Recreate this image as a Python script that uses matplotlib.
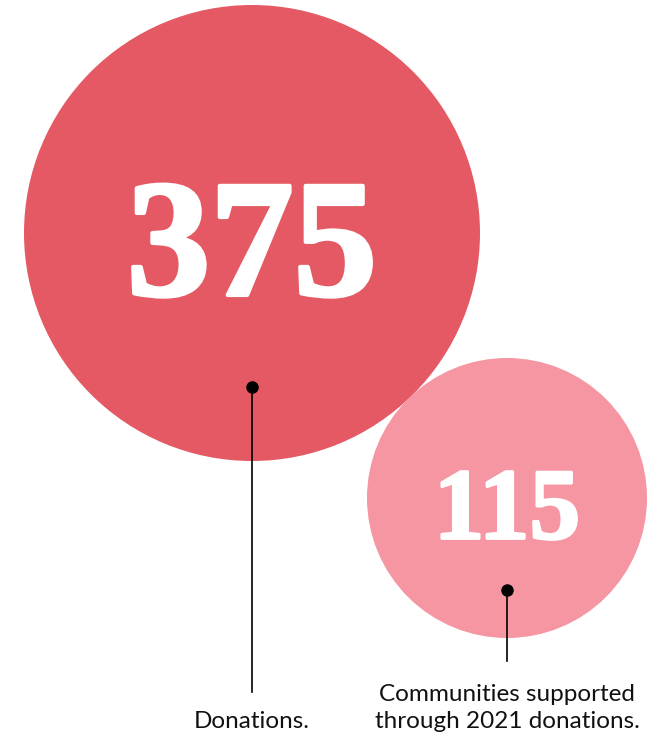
import matplotlib.pyplot as plt
import matplotlib.patheffects as pe
from matplotlib.patches import Circle

values = [375, 115]
labels = ["Donations.", "Communities supported\nthrough 2021 donations."]
colors = ["#E45963", "#F596A2"]

# layout in pixel units (figure is 660 x 740)
centers = [(252, 233), (507, 498)]
radii = [228, 140]
dots_y = [387, 590]
line_end = [692, 661]
label_y = [722, 708]
num_sizes = [120, 73]
num_shift = [22, 16]
num_stroke = [3, 2]

fig = plt.figure(figsize=(6.6, 7.4), dpi=100)
ax = fig.add_axes([0, 0, 1, 1])
ax.set_xlim(0, 660)
ax.set_ylim(740, 0)
ax.set_aspect('equal')
ax.axis('off')

for i in range(len(values)):
    cx, cy = centers[i]
    ax.add_patch(Circle((cx, cy), radii[i], color=colors[i], lw=0, zorder=1))
    t = ax.text(cx, cy + num_shift[i], str(values[i]), ha='center', va='center', color='white',
                fontsize=num_sizes[i], fontweight='bold', family='Liberation Serif', zorder=3)
    # thicken the digits a bit, the original face is chunkier
    t.set_path_effects([pe.withStroke(linewidth=num_stroke[i], foreground='white')])
    ax.plot([cx, cx], [dots_y[i], line_end[i]], color='black', lw=1.2, zorder=2)
    ax.plot(cx, dots_y[i], 'o', color='black', ms=8, zorder=3)
    ax.text(cx, label_y[i], labels[i], ha='center', va='center', color='#111111',
            fontsize=17.5, family='Lato', linespacing=1.3)

fig.savefig('out.png', dpi=100)
